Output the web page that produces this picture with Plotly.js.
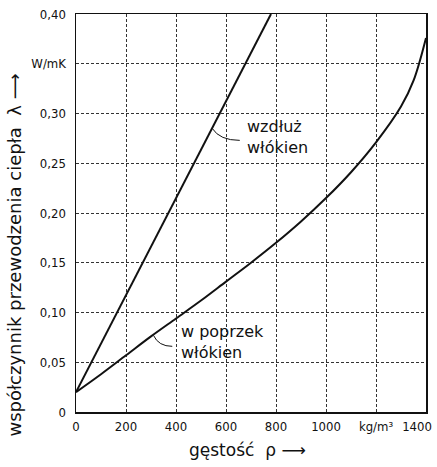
<!DOCTYPE html>
<html>
<head>
<meta charset="utf-8">
<script src="https://cdn.plot.ly/plotly-3.0.1.min.js"></script>
<style>html,body{margin:0;padding:0;background:#fff;}#chart{width:437px;height:467px;}</style>
</head>
<body>
<div id="chart"></div>
<script>
// Data
const rhoAlong = [0, 780];
const lamAlong = [0.02, 0.40];
const rhoAcross = [0, 100, 200, 300, 400, 500, 600, 700, 800, 900, 1000, 1100, 1200, 1300, 1350, 1400];
const lamAcross = [0.02, 0.038, 0.057, 0.076, 0.094, 0.112, 0.131, 0.150, 0.170, 0.1915, 0.215, 0.241, 0.271, 0.307, 0.333, 0.376];

const xTickVals = [0, 200, 400, 600, 800, 1000, 1200, 1400];
const xTickText = ['0', '200', '400', '600', '800', '1000', 'kg/m³', '1400'];
const yTickVals = [0, 0.05, 0.10, 0.15, 0.20, 0.25, 0.30, 0.35, 0.40];
const yTickText = ['0', '0,05', '0,10', '0,15', '0,20', '0,25', '0,30', 'W/mK', '0,40'];

const labelAlong = 'wzdłuż<br>włókien';
const labelAcross = 'w poprzek<br>włókien';
const yTitle = 'współczynnik przewodzenia ciepła  λ ⟶';
const xTitle = 'gęstość  ρ ⟶';

const fontMain = 'DejaVu Sans, sans-serif';
const fontTicks = 'Liberation Sans Narrow, DejaVu Sans Condensed, Liberation Sans, sans-serif';

const nX = xTickVals.length;

const traces = [
  {x: rhoAlong, y: lamAlong, xaxis: 'x2', yaxis: 'y', mode: 'lines', line: {color: '#111', width: 2}, hoverinfo: 'skip'},
  {x: rhoAcross, y: lamAcross, mode: 'lines', line: {color: '#111', width: 2, shape: 'spline', smoothing: 1}, hoverinfo: 'skip'}
];

const axisCommon = {
  showgrid: true, gridcolor: '#333', gridwidth: 1, griddash: '3px,2px',
  showline: true, linecolor: '#111', linewidth: 1.5, mirror: true,
  zeroline: false, ticks: '', fixedrange: true,
  tickfont: {family: fontTicks, size: 13, color: '#111'}
};

const layout = {
  width: 437, height: 467,
  margin: {l: 76, r: 11, t: 14, b: 55},
  paper_bgcolor: '#fff', plot_bgcolor: '#fff',
  showlegend: false,
  xaxis: Object.assign({}, axisCommon, {range: [0, 1400], tickmode: 'array',
    tickvals: xTickVals.slice(0, nX - 1), ticktext: xTickText.slice(0, nX - 1), ticklabelstandoff: 2}),
  xaxis2: {overlaying: 'x', matches: 'x', anchor: 'y', side: 'bottom', range: [0, 1400],
    showgrid: false, showline: false, zeroline: false, ticks: '', fixedrange: true,
    tickmode: 'array', tickvals: xTickVals.slice(nX - 1), ticktext: xTickText.slice(nX - 1),
    ticklabelstandoff: 5, ticklabelshift: -9, ticklabeloverflow: 'allow',
    tickfont: {family: fontTicks, size: 13, color: '#111'}},
  yaxis: Object.assign({}, axisCommon, {range: [0, 0.40], tickmode: 'array', tickvals: yTickVals, ticktext: yTickText, ticklabelstandoff: 6}),
  annotations: [
    {x: 676, y: 0.276, xref: 'x', yref: 'y', text: labelAlong, showarrow: false, xanchor: 'left', yanchor: 'middle', align: 'left', font: {family: fontMain, size: 16, color: '#111'}},
    {x: 410, y: 0.070, xref: 'x', yref: 'y', text: labelAcross, showarrow: false, xanchor: 'left', yanchor: 'middle', align: 'left', font: {family: fontMain, size: 16, color: '#111'}},
    {x: -0.175, y: 0.395, xref: 'paper', yref: 'paper', text: yTitle, showarrow: false, textangle: -90, xanchor: 'center', yanchor: 'middle', font: {family: fontMain, size: 18, color: '#111'}},
    {x: 0.49, y: -0.095, xref: 'paper', yref: 'paper', text: xTitle, showarrow: false, xanchor: 'center', yanchor: 'middle', font: {family: fontMain, size: 17, color: '#111'}}
  ],
  shapes: [
    {type: 'path', xref: 'x', yref: 'y', path: 'M 545,0.285 Q 575,0.273 655,0.273', line: {color: '#111', width: 1}},
    {type: 'path', xref: 'x', yref: 'y', path: 'M 310,0.077 Q 330,0.066 385,0.066', line: {color: '#111', width: 1}}
  ]
};

Plotly.newPlot('chart', traces, layout, {staticPlot: true, displayModeBar: false});
</script>
</body>
</html>
